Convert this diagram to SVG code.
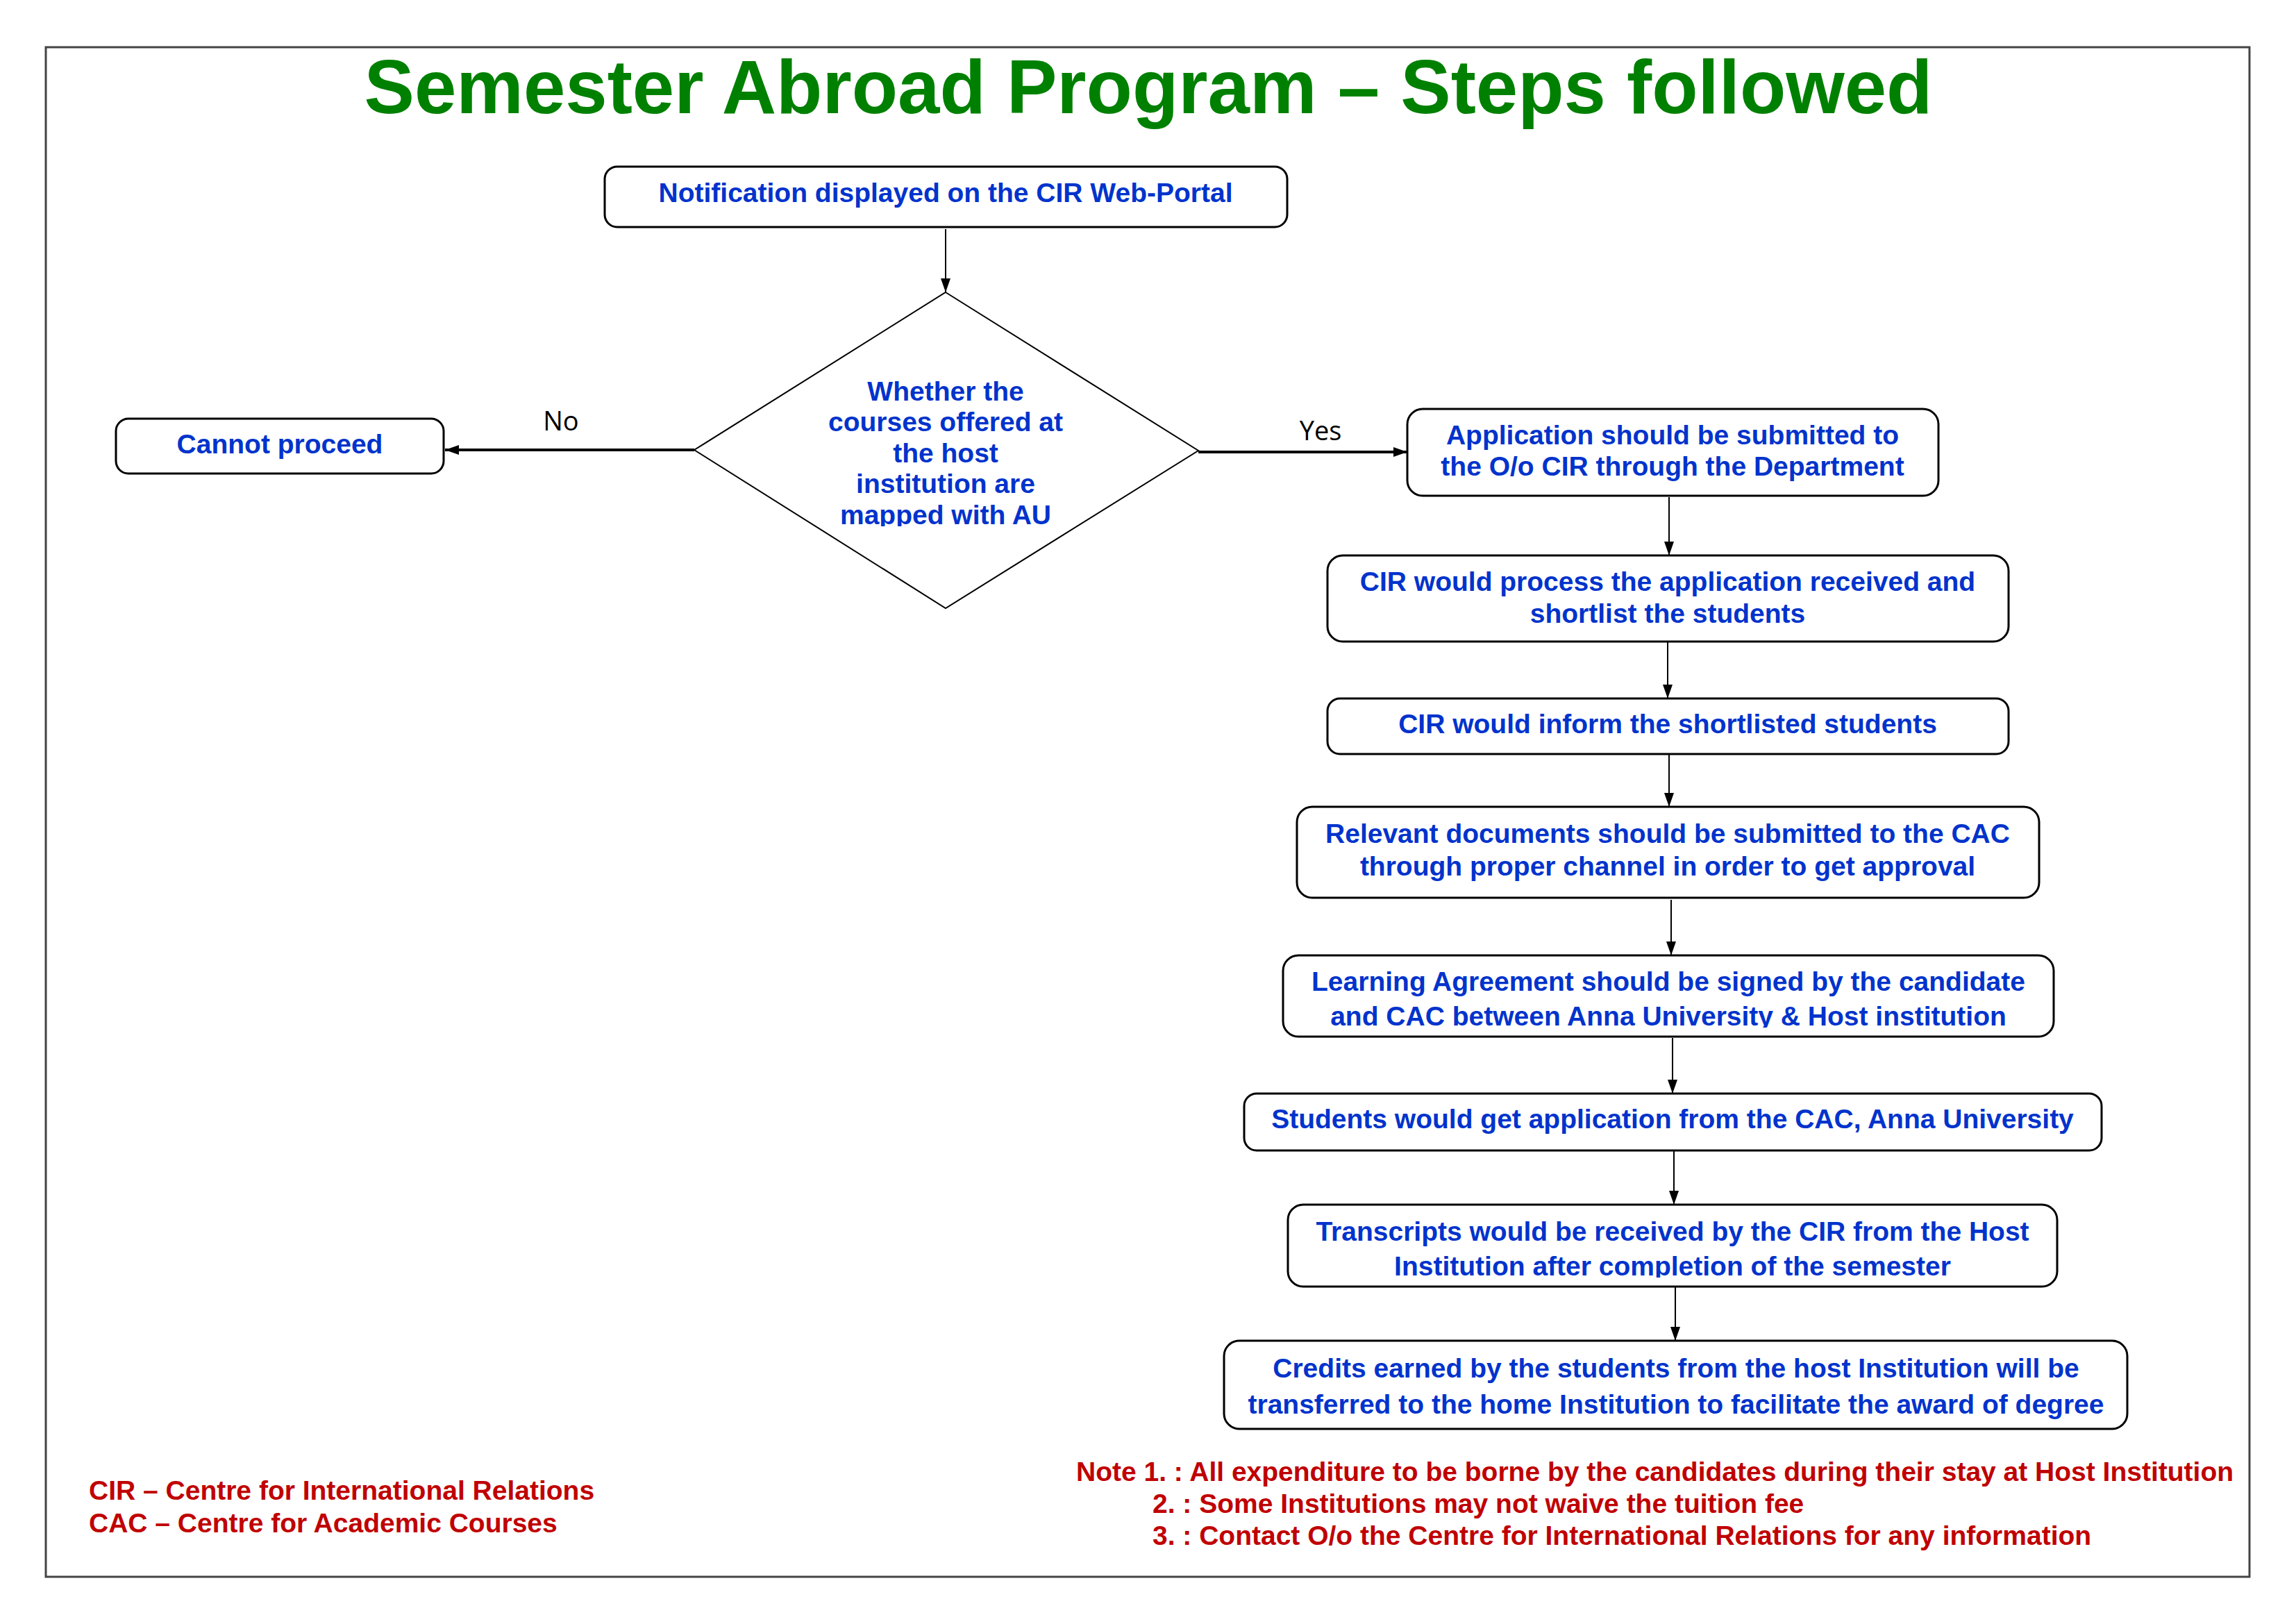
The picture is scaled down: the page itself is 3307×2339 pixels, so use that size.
<svg xmlns="http://www.w3.org/2000/svg" width="3307" height="2339" viewBox="0 0 3307 2339">
<style>
.box{fill:#fff;stroke:#000;stroke-width:3}
.bt{font-family:"Liberation Sans",Arial,sans-serif;font-weight:bold;font-size:39px;fill:#0033CC;text-anchor:middle}
.rt{font-family:"Liberation Sans",Arial,sans-serif;font-weight:bold;font-size:39px;fill:#C00000}
.lbl{font-family:"Open Sans","Noto Sans",sans-serif;font-size:38px;fill:#000;text-anchor:middle}
.c{stroke:#000;stroke-width:2;fill:none}
.ct{stroke:#000;stroke-width:4;fill:none}
</style>
<defs>
<marker id="ah" markerUnits="userSpaceOnUse" markerWidth="22" markerHeight="14" refX="20" refY="7" orient="auto">
<path d="M0,0 L20,7 L0,14 Z" fill="#000"/>
</marker>
<clipPath id="cd"><rect x="1000" y="421" width="726" height="337"/></clipPath>
<clipPath id="cl"><rect x="1848" y="1376" width="1110" height="104"/></clipPath>
<clipPath id="ctr"><rect x="1855" y="1735" width="1108" height="105"/></clipPath>
</defs>
<rect x="66" y="68" width="3174" height="2203" fill="#fff" stroke="#444" stroke-width="3"/>
<text x="1654" y="163" font-family="Liberation Sans,Arial,sans-serif" font-weight="bold" font-size="108.6" fill="#008000" text-anchor="middle">Semester Abroad Program – Steps followed</text>

<g id="connectors">
<line class="c" x1="1362" y1="330" x2="1362" y2="421" marker-end="url(#ah)"/>
<line class="ct" x1="1000" y1="648" x2="641" y2="648" marker-end="url(#ah)"/>
<line class="ct" x1="1726" y1="651" x2="2027" y2="651" marker-end="url(#ah)"/>
<line class="c" x1="2404" y1="716" x2="2404" y2="800" marker-end="url(#ah)"/>
<line class="c" x1="2402" y1="924" x2="2402" y2="1006" marker-end="url(#ah)"/>
<line class="c" x1="2404" y1="1086" x2="2404" y2="1162" marker-end="url(#ah)"/>
<line class="c" x1="2407" y1="1296" x2="2407" y2="1376" marker-end="url(#ah)"/>
<line class="c" x1="2409" y1="1495" x2="2409" y2="1575" marker-end="url(#ah)"/>
<line class="c" x1="2411" y1="1657" x2="2411" y2="1735" marker-end="url(#ah)"/>
<line class="c" x1="2413" y1="1851" x2="2413" y2="1931" marker-end="url(#ah)"/>
<text class="lbl" x="808" y="620">No</text>
<text class="lbl" x="1902" y="634">Yes</text>
</g>

<g id="n-notification">
<rect class="box" x="871" y="240" width="983" height="87" rx="18"/>
<text class="bt" x="1362" y="291">Notification displayed on the CIR Web-Portal</text>
</g>
<g id="n-decision">
<polygon points="1362,421 1726,649 1362,876 1000,648" fill="#fff" stroke="#000" stroke-width="2"/>
<g clip-path="url(#cd)">
<text class="bt" x="1362" y="577">Whether the</text>
<text class="bt" x="1362" y="621">courses offered at</text>
<text class="bt" x="1362" y="666">the host</text>
<text class="bt" x="1362" y="710">institution are</text>
<text class="bt" x="1362" y="755">mapped with AU</text>
</g>
</g>
<g id="n-cannot">
<rect class="box" x="167" y="603" width="472" height="79" rx="18"/>
<text class="bt" x="403" y="653">Cannot proceed</text>
</g>
<g id="n-application">
<rect class="box" x="2027" y="589" width="765" height="125" rx="22"/>
<text class="bt" x="2409" y="640">Application should be submitted to</text>
<text class="bt" x="2409" y="685">the O/o CIR through the Department</text>
</g>
<g id="n-process">
<rect class="box" x="1912" y="800" width="981" height="124" rx="22"/>
<text class="bt" x="2402" y="851">CIR would process the application received and</text>
<text class="bt" x="2402" y="897">shortlist the students</text>
</g>
<g id="n-inform">
<rect class="box" x="1912" y="1006" width="981" height="80" rx="18"/>
<text class="bt" x="2402" y="1056">CIR would inform the shortlisted students</text>
</g>
<g id="n-relevant">
<rect class="box" x="1868" y="1162" width="1069" height="131" rx="22"/>
<text class="bt" x="2402" y="1214">Relevant documents should be submitted to the CAC</text>
<text class="bt" x="2402" y="1261">through proper channel in order to get approval</text>
</g>
<g id="n-learning">
<rect class="box" x="1848" y="1376" width="1110" height="117" rx="22"/>
<g clip-path="url(#cl)">
<text class="bt" x="2403" y="1427">Learning Agreement should be signed by the candidate</text>
<text class="bt" x="2403" y="1477">and CAC between Anna University &amp; Host institution</text>
</g>
</g>
<g id="n-students">
<rect class="box" x="1792" y="1575" width="1235" height="82" rx="18"/>
<text class="bt" x="2409" y="1625">Students would get application from the CAC, Anna University</text>
</g>
<g id="n-transcripts">
<rect class="box" x="1855" y="1735" width="1108" height="118" rx="22"/>
<g clip-path="url(#ctr)">
<text class="bt" x="2409" y="1787">Transcripts would be received by the CIR from the Host</text>
<text class="bt" x="2409" y="1837">Institution after completion of the semester</text>
</g>
</g>
<g id="n-credits">
<rect class="box" x="1763" y="1931" width="1301" height="127" rx="22"/>
<text class="bt" x="2414" y="1984">Credits earned by the students from the host Institution will be</text>
<text class="bt" x="2414" y="2036">transferred to the home Institution to facilitate the award of degree</text>
</g>

<g id="notes">
<text class="rt" x="1550" y="2133">Note 1. : All expenditure to be borne by the candidates during their stay at Host Institution</text>
<text class="rt" x="1660" y="2179">2. : Some Institutions may not waive the tuition fee</text>
<text class="rt" x="1660" y="2225">3. : Contact O/o the Centre for International Relations for any information</text>
</g>
<g id="legend">
<text class="rt" x="128" y="2160">CIR – Centre for International Relations</text>
<text class="rt" x="128" y="2207">CAC – Centre for Academic Courses</text>
</g>
</svg>
